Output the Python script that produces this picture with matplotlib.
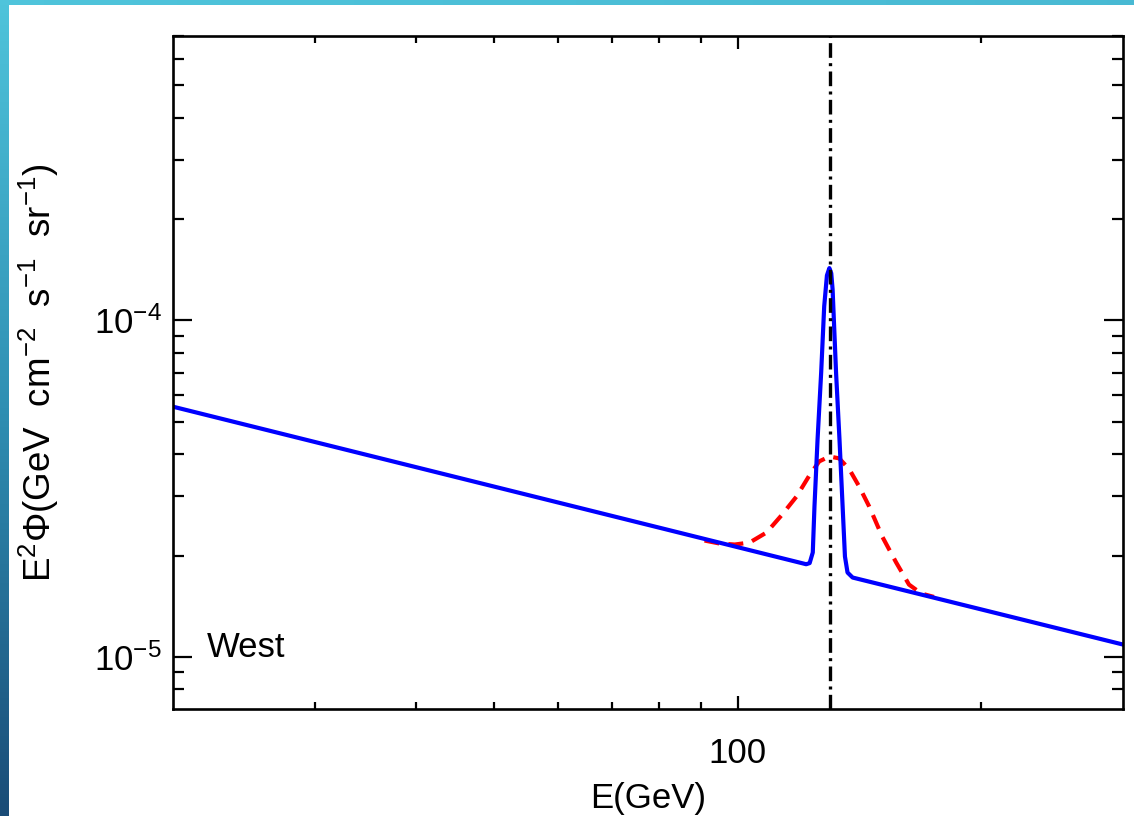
import numpy as np
import matplotlib
matplotlib.use("Agg")
import matplotlib.pyplot as plt
from matplotlib.colors import LinearSegmentedColormap

plt.rcParams['font.family'] = ['Liberation Sans', 'DejaVu Sans']
plt.rcParams['mathtext.fontset'] = 'custom'
plt.rcParams['mathtext.rm'] = 'Liberation Sans'
plt.rcParams['mathtext.it'] = 'Liberation Sans:italic'
plt.rcParams['mathtext.bf'] = 'Liberation Sans:bold'

# ========= data =========
# blue: power-law background + narrow 130 GeV line
E_blue = [20.0, 121.6, 122.8, 123.9, 124.5, 125.6, 126.9, 128.0, 129.0, 129.9,
          130.6, 131.1, 132.4, 133.7, 134.9, 135.8, 136.8, 138.8, 300.0]
F_blue = [5.54e-5, 1.885e-5, 1.90e-5, 2.043e-5, 2.80e-5, 4.43e-5, 7.00e-5, 1.101e-4,
          1.36e-4, 1.43e-4, 1.38e-4, 1.237e-4, 7.00e-5, 4.43e-5, 2.80e-5,
          1.987e-5, 1.781e-5, 1.721e-5, 1.088e-5]

# red dashed: line smeared by energy resolution
E_red = [91.0, 95.0, 99.2, 103.5, 108.6, 113.3, 118.3, 122.7, 126.2, 129.9,
         133.6, 137.5, 141.4, 145.5, 151.0, 157.1, 163.0, 168.8, 175.0]
F_red = [2.217e-5, 2.172e-5, 2.157e-5, 2.187e-5, 2.342e-5, 2.632e-5, 2.997e-5,
         3.46e-5, 3.81e-5, 3.94e-5, 3.89e-5, 3.61e-5, 3.21e-5, 2.80e-5,
         2.28e-5, 1.91e-5, 1.64e-5, 1.543e-5, 1.507e-5]

E_LINE = 130.0
XLIM = (20, 300)
YLIM = (7e-6, 7e-4)
X_MAJOR = [100]
X_MINOR = [30, 40, 50, 60, 70, 80, 90, 200]
Y_MAJOR = [1e-5, 1e-4]
Y_MINOR = [8e-6, 9e-6] + [k * 1e-5 for k in range(2, 10)] + [k * 1e-4 for k in range(2, 8)]

# ========= figure =========
fig = plt.figure(figsize=(11.34, 8.16), dpi=100)

# slide-style blue border (left strip + top strip)
cmap = LinearSegmentedColormap.from_list("slide", ["#4fc4db", "#2f8fb3", "#1a4c77"])
ax_l = fig.add_axes([0, 0, 9 / 1134, 1])
ax_l.imshow(np.linspace(0, 1, 256).reshape(-1, 1), aspect="auto", cmap=cmap)
ax_l.set_axis_off()
ax_t = fig.add_axes([0, 1 - 5 / 816, 1, 5 / 816])
ax_t.imshow(np.linspace(0.0, 0.1, 256).reshape(1, -1), aspect="auto", cmap=cmap, vmin=0, vmax=1)
ax_t.set_axis_off()

ax = fig.add_axes([173 / 1134, 1 - 709 / 816, 950 / 1134, 673 / 816])
ax.set_xscale("log")
ax.set_yscale("log")

ax.plot(E_red, F_red, color="#ff0000", lw=3.0, ls=(0, (3.6, 2.2)))
ax.plot(E_blue, F_blue, color="#0000ff", lw=3.0, solid_joinstyle="round")
ax.axvline(E_LINE, color="black", lw=2.4, ls=(0, (4.4, 1.6, 0.9, 1.6)))

ax.set_xlim(*XLIM)
ax.set_ylim(*YLIM)

ax.set_xticks(X_MAJOR)
ax.set_xticklabels(["100"])
ax.set_xticks(X_MINOR, minor=True)
ax.set_xticklabels([], minor=True)
ax.set_yticks(Y_MAJOR)
ax.set_yticklabels([r"$10^{-5}$", r"$10^{-4}$"])
ax.set_yticks(Y_MINOR, minor=True)
ax.set_yticklabels([], minor=True)

ax.tick_params(axis="both", which="both", direction="in", top=True, right=True,
               width=1.6, labelsize=25, colors="black")
ax.tick_params(axis="x", which="major", length=9.5, pad=20)
ax.tick_params(axis="x", which="minor", length=5)
ax.tick_params(axis="y", which="major", length=13.5, pad=8)
ax.tick_params(axis="y", which="minor", length=8)
for s in ax.spines.values():
    s.set_linewidth(1.9)

ax.set_xlabel("E(GeV)", fontsize=25, labelpad=9)
ax.set_ylabel(r"E$^2\Phi$(GeV  cm$^{-2}$  s$^{-1}$  sr$^{-1}$)", fontsize=26.5, labelpad=24)
ax.text(0.036, 0.092, "West", transform=ax.transAxes, fontsize=25,
        ha="left", va="center")

fig.savefig("out.png", dpi=100)
